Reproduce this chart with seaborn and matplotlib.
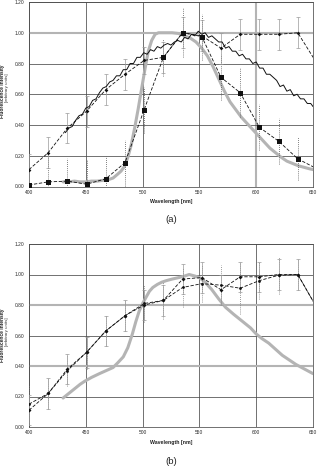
import numpy as np
import pandas as pd
import matplotlib
matplotlib.use("Agg")
import matplotlib.pyplot as plt
import seaborn as sns

# ---------------- data ----------------
wl_pts = [400.0, 416.9, 433.8, 450.7, 467.6, 484.5, 501.4, 518.3, 535.2,
          552.1, 569.0, 585.9, 602.8, 619.7, 636.6, 653.5]

# panel (a)
a_sq = [0.01, 0.03, 0.035, 0.015, 0.05, 0.155, 0.50, 0.84, 1.00, 0.975,
        0.71, 0.61, 0.385, 0.295, 0.18, 0.115]
a_sq_err = [0.15, 0.16, 0.15, 0.16, 0.15, 0.15, 0.15, 0.12, 0.16, 0.15,
            0.15, 0.16, 0.15, 0.15, 0.14, 0.14]
a_dm = [0.11, 0.22, 0.38, 0.49, 0.63, 0.73, 0.82, 0.84, 1.00, 0.98,
        0.90, 0.99, 0.99, 0.99, 1.00, 0.80]
a_dm_err = [0.10, 0.10, 0.10, 0.10, 0.10, 0.10, 0.09, 0.10, 0.10, 0.10,
            0.10, 0.10, 0.10, 0.10, 0.10, 0.10]

a_em_wl = [432, 435, 438, 441, 444, 447, 450, 453, 456, 459, 462, 465, 468,
           471, 474, 477, 480, 483, 486, 489, 492, 495, 498, 501, 504, 507,
           510, 513, 516, 519, 522, 525, 528, 531, 534, 537, 540, 543, 546,
           549, 552, 555, 558, 561, 564, 567, 570, 573, 576, 579, 582, 585,
           588, 591, 594, 597, 600, 603, 606, 609, 612, 615, 618, 621, 624,
           627, 630, 633, 636, 639, 642, 645, 648, 650]
a_em = [0.35, 0.38, 0.39, 0.43, 0.46, 0.47, 0.51, 0.52, 0.56, 0.57, 0.61,
        0.64, 0.65, 0.68, 0.69, 0.72, 0.72, 0.76, 0.76, 0.80, 0.80, 0.84,
        0.84, 0.87, 0.86, 0.89, 0.88, 0.91, 0.90, 0.92, 0.93, 0.92, 0.94,
        0.95, 0.94, 0.97, 0.96, 0.99, 0.98, 1.01, 0.99, 1.00, 0.97, 0.98,
        0.96, 0.94, 0.94, 0.90, 0.91, 0.88, 0.88, 0.85, 0.86, 0.83, 0.83,
        0.80, 0.81, 0.77, 0.77, 0.73, 0.73, 0.71, 0.69, 0.65, 0.66, 0.62,
        0.63, 0.59, 0.60, 0.57, 0.57, 0.54, 0.54, 0.52]

a_gray_wl = [430, 435, 440, 445, 450, 455, 460, 465, 470, 474, 478, 481,
             484, 487, 490, 493, 496, 499, 502, 505, 508, 511, 514, 520,
             526, 532, 537, 542, 547, 552, 557, 562, 567, 572, 577, 582,
             587, 592, 597, 602, 607, 612, 617, 622, 627, 632, 637, 642,
             647, 650]
a_gray = [0.03, 0.03, 0.035, 0.03, 0.03, 0.035, 0.035, 0.04, 0.045, 0.055,
          0.08, 0.10, 0.13, 0.19, 0.27, 0.38, 0.50, 0.63, 0.76, 0.88, 0.95,
          0.99, 1.00, 1.00, 1.00, 0.995, 0.98, 0.965, 0.94, 0.90, 0.85,
          0.78, 0.70, 0.62, 0.55, 0.50, 0.45, 0.41, 0.37, 0.33, 0.29, 0.25,
          0.22, 0.19, 0.165, 0.15, 0.135, 0.125, 0.115, 0.11]

# panel (b)
b_s1 = [0.11, 0.22, 0.38, 0.49, 0.63, 0.73, 0.80, 0.83, 0.97, 0.98, 0.90,
        0.985, 0.985, 1.00, 1.00, 0.78]
b_s1_err = [0.10, 0.10, 0.10, 0.10, 0.10, 0.10, 0.10, 0.10, 0.10, 0.10,
            0.10, 0.10, 0.10, 0.10, 0.10, 0.10]
b_s2 = [0.15, 0.22, 0.37, 0.49, 0.63, 0.73, 0.81, 0.83, 0.915, 0.94, 0.93,
        0.91, 0.96, 0.995, 1.00, 0.78]
b_s2_err = [0.12, 0.10, 0.10, 0.11, 0.10, 0.10, 0.12, 0.12, 0.13, 0.12,
            0.13, 0.17, 0.12, 0.12, 0.10, 0.10]

b_gray_wl = [430, 435, 440, 445, 449, 455, 462, 468, 474, 478, 483, 487,
             491, 494, 497, 500, 503, 506, 509, 513, 517, 521, 526, 532,
             537, 541, 546, 550, 555, 561, 567, 573, 580, 585, 590, 595,
             600, 605, 611, 617, 623, 629, 635, 640, 645, 650]
b_gray = [0.19, 0.22, 0.25, 0.28, 0.30, 0.325, 0.35, 0.37, 0.39, 0.42,
          0.46, 0.52, 0.61, 0.69, 0.76, 0.81, 0.85, 0.89, 0.915, 0.935,
          0.95, 0.96, 0.97, 0.98, 0.99, 1.00, 0.99, 0.98, 0.95, 0.90, 0.84,
          0.785, 0.74, 0.71, 0.68, 0.65, 0.61, 0.58, 0.55, 0.51, 0.47,
          0.44, 0.41, 0.39, 0.37, 0.35]

x_ticks = [400, 450, 500, 550, 600, 650]
x_ticklabels = ["400", "450", "500", "550", "600", "650"]
y_ticks = [0.0, 0.2, 0.4, 0.6, 0.8, 1.0, 1.2]
y_ticklabels = ["0.00", "0.20", "0.40", "0.60", "0.80", "1.00", "1.20"]

# ---------------- style ----------------
sns.set_theme(style="white")
plt.rcParams['font.family'] = ['Liberation Sans', 'DejaVu Sans']

fig = plt.figure(figsize=(3.17, 4.66), dpi=100)
ax_a = fig.add_axes([29 / 317, 279.5 / 466, 284 / 317, 184.5 / 466])
ax_b = fig.add_axes([29 / 317, 39 / 466, 284 / 317, 183 / 466])

GRID = "#4a4a4a"
LGRAY = "#b4b4b4"


def style_axes(ax, light_y=(), light_x=()):
    ax.set_xlim(400, 650)
    ax.set_ylim(0, 1.2)
    ax.set_xticks(x_ticks)
    ax.set_xticklabels(x_ticklabels)
    ax.set_yticks(y_ticks)
    ax.set_yticklabels(y_ticklabels)
    ax.tick_params(axis="both", length=0, labelsize=3.5, colors="#2a2a2a")
    ax.tick_params(axis="x", pad=2.5)
    ax.tick_params(axis="y", pad=3.5)
    ax.grid(True, color=GRID, lw=0.55)
    for i, gl in enumerate(ax.get_ygridlines()):
        if i in light_y:
            gl.set_color(LGRAY)
            gl.set_linewidth(1.5)
    for i, gl in enumerate(ax.get_xgridlines()):
        if i in light_x:
            gl.set_color(LGRAY)
            gl.set_linewidth(1.5)
    for s in ax.spines.values():
        s.set_color(GRID)
        s.set_linewidth(0.55)
    ax.set_axisbelow(True)
    ax.set_xlabel("Wavelength [nm]", fontsize=3.8, fontweight="bold",
                  labelpad=3, color="#222222")
    ax.set_ylabel("")


# ---------------- panel (a) ----------------
ax = ax_a
sns.lineplot(x=a_gray_wl, y=a_gray, ax=ax, color="#b4b4b4", lw=2.2,
             sort=False, estimator=None, zorder=2)
sns.lineplot(x=a_em_wl, y=a_em, ax=ax, color="#111111", lw=0.7,
             sort=False, estimator=None, zorder=4)
ax.errorbar(wl_pts, a_sq, yerr=a_sq_err, fmt="none", ecolor="#555555",
            elinewidth=0.6, zorder=3)
ax.collections[-1].set_linestyle((0, (1, 1.5)))
ax.errorbar(wl_pts, a_dm, yerr=a_dm_err, fmt="none", ecolor="#9a9a9a",
            elinewidth=0.5, capsize=1.3, capthick=0.5, zorder=3)
sns.lineplot(x=wl_pts, y=a_sq, ax=ax, color="#111111", lw=0.6,
             linestyle=(0, (4, 2)), marker="s", markersize=3.6,
             markeredgewidth=0, sort=False, estimator=None, zorder=5)
sns.lineplot(x=wl_pts, y=a_dm, ax=ax, color="#111111", lw=0.6,
             linestyle=(0, (4, 2)), marker="D", markersize=1.9,
             markeredgewidth=0, sort=False, estimator=None, zorder=5)
style_axes(ax, light_y=(5,), light_x=(4,))

# ---------------- panel (b) ----------------
ax = ax_b
sns.lineplot(x=b_gray_wl, y=b_gray, ax=ax, color="#b4b4b4", lw=2.2,
             sort=False, estimator=None, zorder=2)
ax.errorbar(wl_pts, b_s2, yerr=b_s2_err, fmt="none", ecolor="#777777",
            elinewidth=0.6, zorder=3)
ax.collections[-1].set_linestyle((0, (1, 1.5)))
ax.errorbar(wl_pts, b_s1, yerr=b_s1_err, fmt="none", ecolor="#9a9a9a",
            elinewidth=0.5, capsize=1.3, capthick=0.5, zorder=3)
sns.lineplot(x=wl_pts, y=b_s2, ax=ax, color="#111111", lw=0.6,
             linestyle=(0, (4, 2)), marker="o", markersize=2.0,
             markeredgewidth=0, sort=False, estimator=None, zorder=5)
sns.lineplot(x=wl_pts, y=b_s1, ax=ax, color="#111111", lw=0.6,
             linestyle=(0, (4, 2)), marker="D", markersize=2.0,
             markeredgewidth=0, sort=False, estimator=None, zorder=5)
style_axes(ax, light_y=(4, 2))

# ---------------- labels ----------------
for yc in (1 - 91 / 466, 1 - 335 / 466):
    fig.text(0.0085, yc, "Fluorescence Intensity", rotation=90,
             fontsize=3.5, fontweight="bold", ha="center", va="center",
             color="#222222")
    fig.text(0.023, yc + 0.008, "[arbitrary units]", rotation=90,
             fontsize=3.2, ha="center", va="center", color="#333333")

fig.text(171 / 317, 1 - 219 / 466, "(a)", fontsize=6.8, ha="center",
         va="center", color="#222222")
fig.text(171 / 317, 1 - 461 / 466, "(b)", fontsize=6.8, ha="center",
         va="center", color="#222222")

fig.savefig("out.png", dpi=100)
